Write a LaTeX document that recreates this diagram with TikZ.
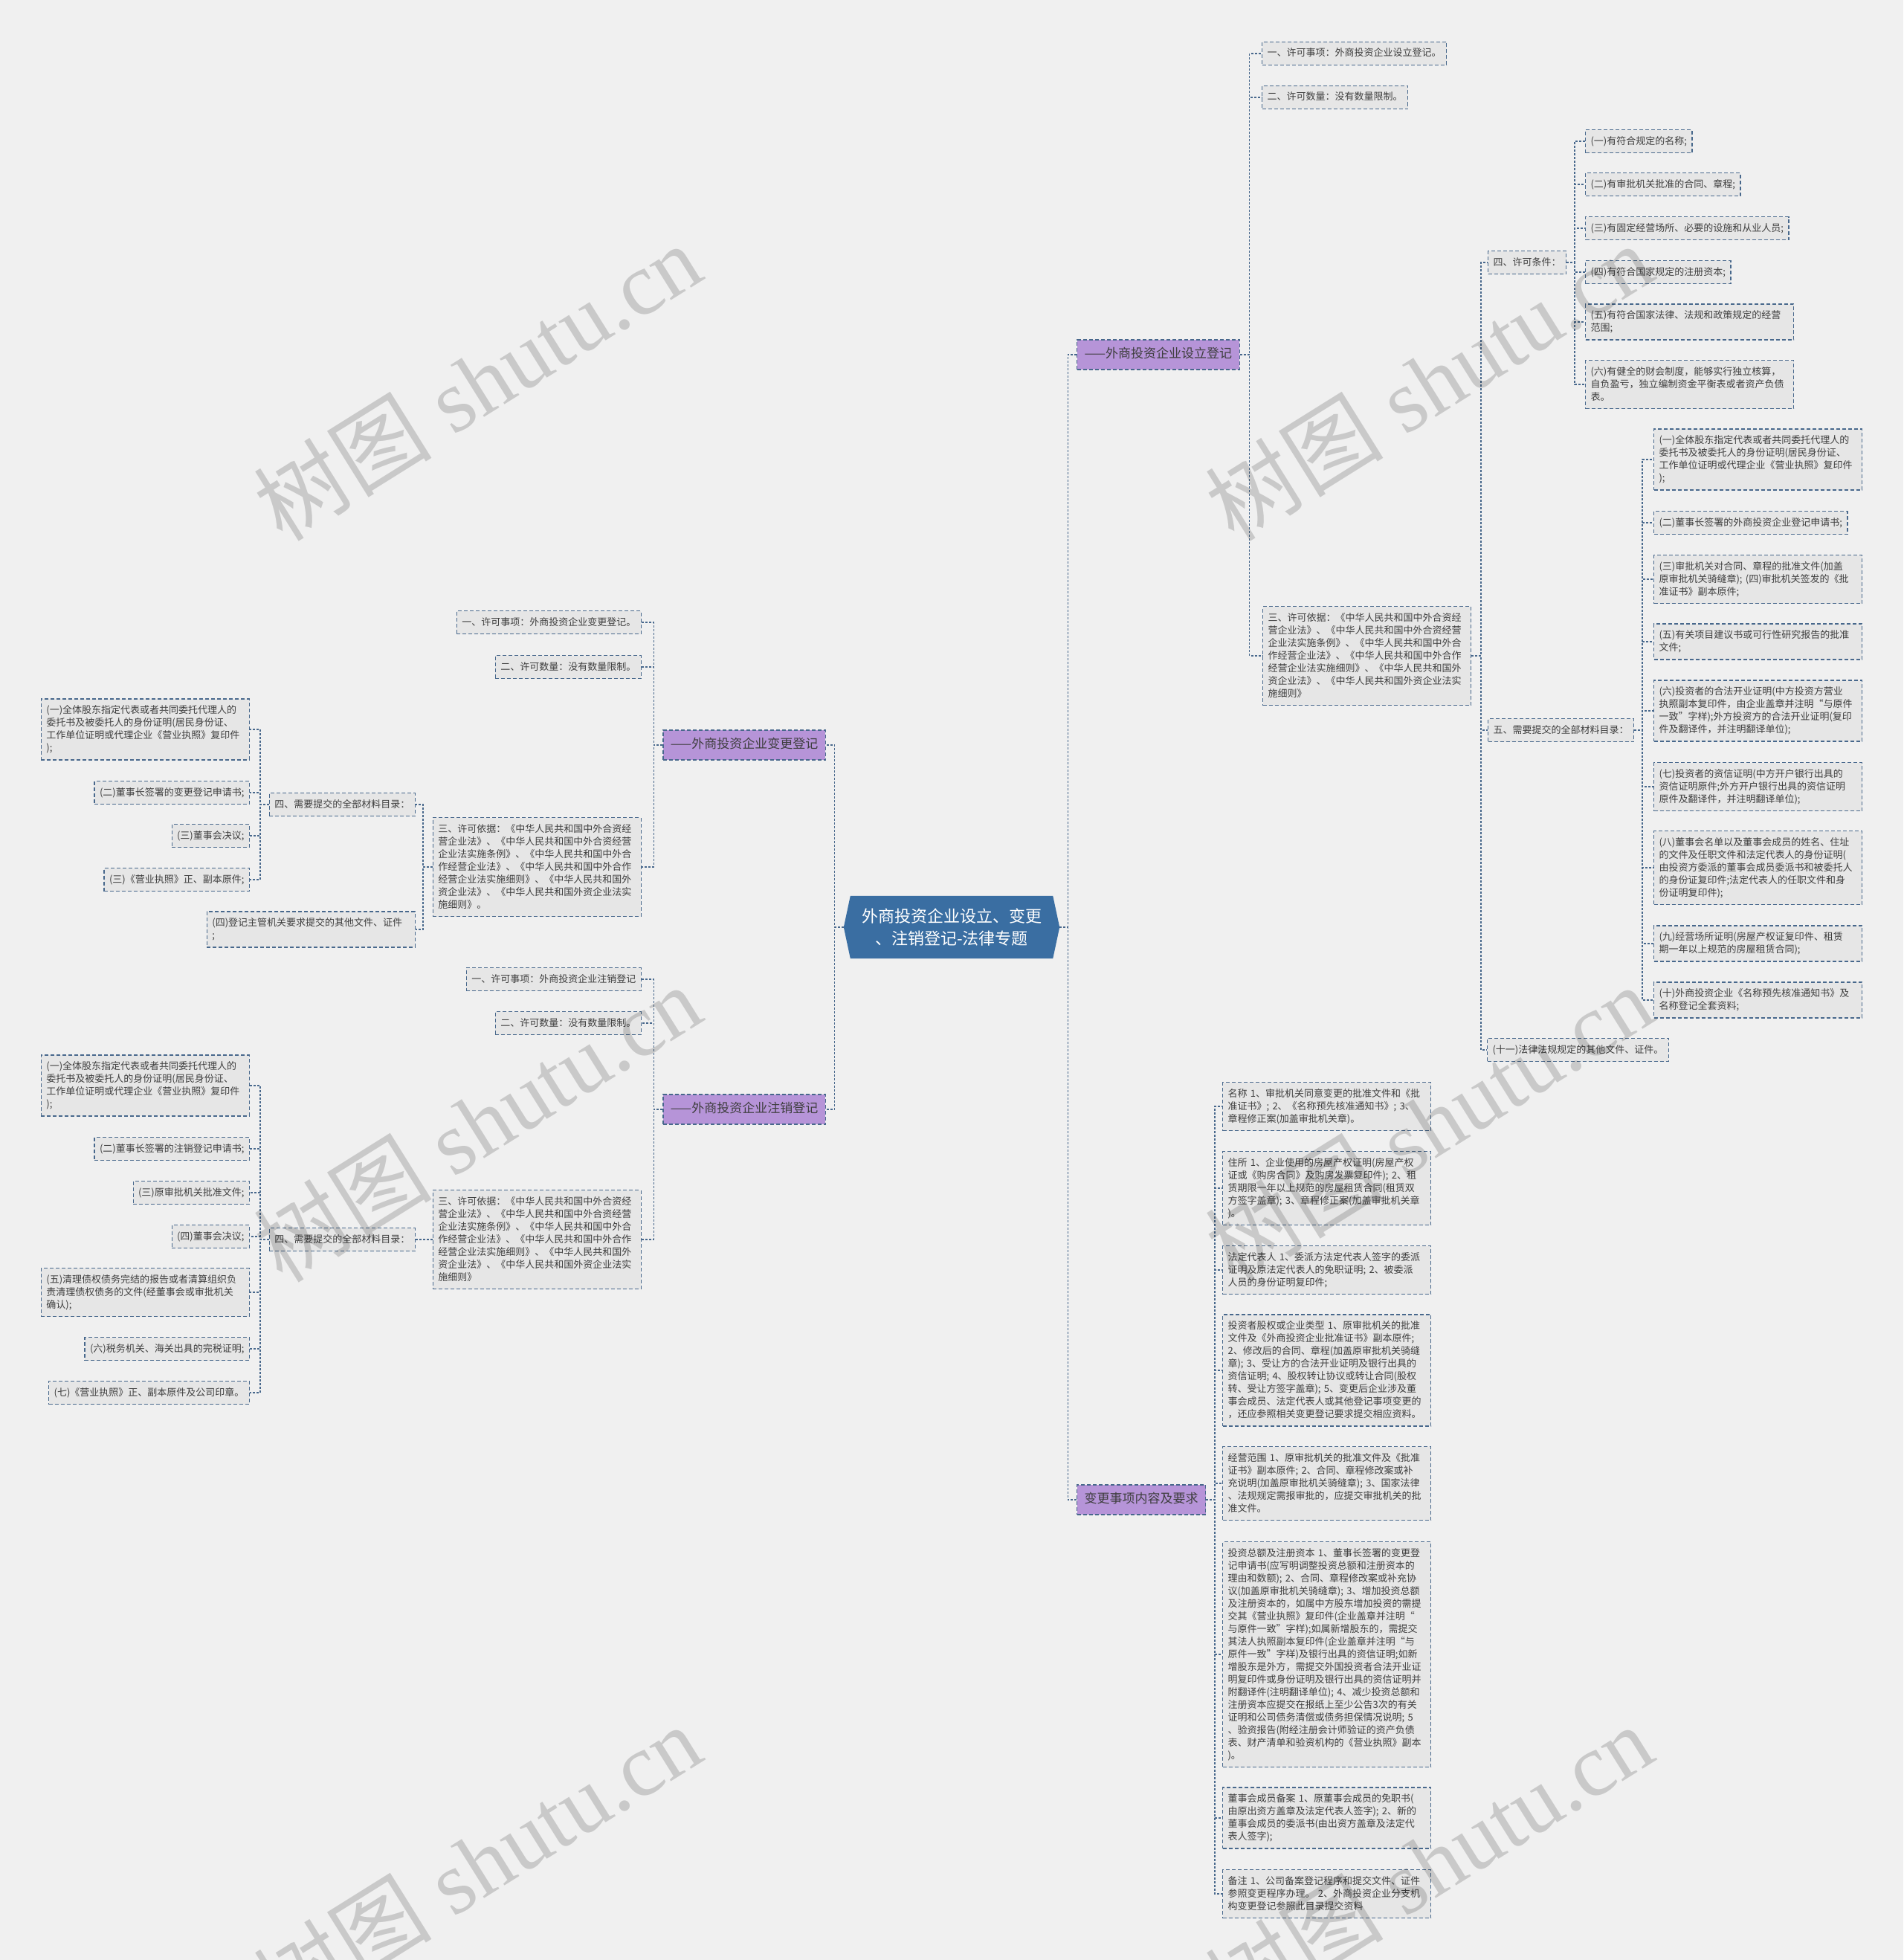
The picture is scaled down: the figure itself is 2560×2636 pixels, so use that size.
\documentclass[tikz,border=0pt]{standalone}
\usepackage{fontspec}
\usepackage{tikz}
\usetikzlibrary{backgrounds}
\newfontfamily\cjk{Noto Sans CJK SC}
\newfontfamily\wmfont{Liberation Serif}
\definecolor{pagebg}{RGB}{240,240,240}
\definecolor{boxfill}{RGB}{230,230,230}
\definecolor{boxline}{RGB}{72,104,140}
\definecolor{txtgray}{RGB}{62,62,62}
\definecolor{topicfill}{RGB}{182,148,216}
\definecolor{rootfill}{RGB}{58,110,162}
\newcommand{\bxstrut}{\vrule height 12.5pt depth 4.5pt width 0pt}
\newcommand{\tpstrut}{\vrule height 14.5pt depth 5.5pt width 0pt}

\begin{document}
\begin{tikzpicture}[x=1pt,y=-1pt,
  leaf/.style={draw=boxline,line width=1.1pt,dash pattern=on 5pt off 3pt,fill=boxfill,text=txtgray,
    font=\cjk\fontsize{13pt}{17pt}\selectfont,inner xsep=7pt,inner ysep=7pt,
    execute at begin node=\bxstrut,execute at end node=\bxstrut},
  para/.style={leaf,text width=266pt,align=left},
  topic/.style={draw=boxline,line width=1.1pt,dash pattern=on 5pt off 3pt,fill=topicfill,text=txtgray,
    font=\cjk\fontsize{17pt}{21pt}\selectfont,inner xsep=10pt,inner ysep=10pt,
    execute at begin node=\tpstrut,execute at end node=\tpstrut},
  link/.style={draw=boxline,line width=1.3pt,dash pattern=on 3pt off 2pt},
  wmark/.style={rotate=32,text=black,text opacity=0.16,font=\wmfont\fontsize{120pt}{120pt}\selectfont}]
  \useasboundingbox (0,0) rectangle (2560,2636);

  \node (root) [minimum width=272pt,minimum height=84pt,inner sep=0pt,align=center,text=white,
    font=\cjk\fontsize{22pt}{30pt}\selectfont] at (1280,1247) {外商投资企业设立、变更\\、注销登记-法律专题};
  \coordinate (rootL) at ([xshift=-9pt]root.west);
  \coordinate (rootR) at ([xshift=9pt]root.east);
  \begin{scope}[on background layer]
    \fill[pagebg] (0,0) rectangle (2560,2636);
    \fill[rootfill] (root.north west) -- (root.north east) -- (rootR) -- (root.south east)
      -- (root.south west) -- (rootL) -- cycle;
  \end{scope}

  \node (setup) [topic,anchor=west] at (1448,477) {——外商投资企业设立登记};
  \node (change) [topic,anchor=east] at (1111,1002) {——外商投资企业变更登记};
  \node (cancel) [topic,anchor=east] at (1111,1492) {——外商投资企业注销登记};
  \node (items) [topic,anchor=west] at (1448,2017) {变更事项内容及要求};

  % 设立登记
  \node (r1) [leaf,anchor=west] at (1697,72) {一、许可事项：外商投资企业设立登记。};
  \node (r2) [leaf,anchor=west] at (1697,131) {二、许可数量：没有数量限制。};
  \node (r3) [para,anchor=west] at (1698,882) {三、许可依据：《中华人民共和国中外合资经\\营企业法》、《中华人民共和国中外合资经营\\企业法实施条例》、《中华人民共和国中外合\\作经营企业法》、《中华人民共和国中外合作\\经营企业法实施细则》、《中华人民共和国外\\资企业法》、《中华人民共和国外资企业法实\\施细则》};
  \node (cond) [leaf,anchor=west] at (2001,353) {四、许可条件：};
  \node (mat) [leaf,anchor=west] at (2001,982) {五、需要提交的全部材料目录：};
  \node (m10) [leaf,anchor=west] at (2000,1412) {(十一)法律法规规定的其他文件、证件。};
  \node (c1) [leaf,anchor=west] at (2132,190) {(一)有符合规定的名称;};
  \node (c2) [leaf,anchor=west] at (2132,248) {(二)有审批机关批准的合同、章程;};
  \node (c3) [leaf,anchor=west] at (2132,307) {(三)有固定经营场所、必要的设施和从业人员;};
  \node (c4) [leaf,anchor=west] at (2132,366) {(四)有符合国家规定的注册资本;};
  \node (c5) [para,anchor=west] at (2132,433) {(五)有符合国家法律、法规和政策规定的经营\\范围;};
  \node (c6) [para,anchor=west] at (2132,517) {(六)有健全的财会制度，能够实行独立核算，\\自负盈亏，独立编制资金平衡表或者资产负债\\表。};
  \node (m1) [para,anchor=west] at (2224,618) {(一)全体股东指定代表或者共同委托代理人的\\委托书及被委托人的身份证明(居民身份证、\\工作单位证明或代理企业《营业执照》复印件\\);};
  \node (m2) [leaf,anchor=west] at (2224,703) {(二)董事长签署的外商投资企业登记申请书;};
  \node (m3) [para,anchor=west] at (2224,779) {(三)审批机关对合同、章程的批准文件(加盖\\原审批机关骑缝章); (四)审批机关签发的《批\\准证书》副本原件;};
  \node (m4) [para,anchor=west] at (2224,863) {(五)有关项目建议书或可行性研究报告的批准\\文件;};
  \node (m5) [para,anchor=west] at (2224,956) {(六)投资者的合法开业证明(中方投资方营业\\执照副本复印件，由企业盖章并注明“与原件\\一致”字样);外方投资方的合法开业证明(复印\\件及翻译件，并注明翻译单位);};
  \node (m6) [para,anchor=west] at (2224,1058) {(七)投资者的资信证明(中方开户银行出具的\\资信证明原件;外方开户银行出具的资信证明\\原件及翻译件，并注明翻译单位);};
  \node (m7) [para,anchor=west] at (2224,1167) {(八)董事会名单以及董事会成员的姓名、住址\\的文件及任职文件和法定代表人的身份证明(\\由投资方委派的董事会成员委派书和被委托人\\的身份证复印件;法定代表人的任职文件和身\\份证明复印件);};
  \node (m8) [para,anchor=west] at (2224,1269) {(九)经营场所证明(房屋产权证复印件、租赁\\期一年以上规范的房屋租赁合同);};
  \node (m9) [para,anchor=west] at (2224,1345) {(十)外商投资企业《名称预先核准通知书》及\\名称登记全套资料;};

  % 变更事项内容及要求
  \node (b1) [para,anchor=west] at (1644,1488) {名称 1、审批机关同意变更的批准文件和《批\\准证书》; 2、《名称预先核准通知书》; 3、\\章程修正案(加盖审批机关章)。};
  \node (b2) [para,anchor=west] at (1644,1598) {住所 1、企业使用的房屋产权证明(房屋产权\\证或《购房合同》及购房发票复印件); 2、租\\赁期限一年以上规范的房屋租赁合同(租赁双\\方签字盖章); 3、章程修正案(加盖审批机关章\\)。};
  \node (b3) [para,anchor=west] at (1644,1708) {法定代表人 1、委派方法定代表人签字的委派\\证明及原法定代表人的免职证明; 2、被委派\\人员的身份证明复印件;};
  \node (b4) [para,anchor=west] at (1644,1843) {投资者股权或企业类型 1、原审批机关的批准\\文件及《外商投资企业批准证书》副本原件;\\2、修改后的合同、章程(加盖原审批机关骑缝\\章); 3、受让方的合法开业证明及银行出具的\\资信证明; 4、股权转让协议或转让合同(股权\\转、受让方签字盖章); 5、变更后企业涉及董\\事会成员、法定代表人或其他登记事项变更的\\，还应参照相关变更登记要求提交相应资料。};
  \node (b5) [para,anchor=west] at (1644,1995) {经营范围 1、原审批机关的批准文件及《批准\\证书》副本原件; 2、合同、章程修改案或补\\充说明(加盖原审批机关骑缝章); 3、国家法律\\、法规规定需报审批的，应提交审批机关的批\\准文件。};
  \node (b6) [para,anchor=west] at (1644,2225) {投资总额及注册资本 1、董事长签署的变更登\\记申请书(应写明调整投资总额和注册资本的\\理由和数额); 2、合同、章程修改案或补充协\\议(加盖原审批机关骑缝章); 3、增加投资总额\\及注册资本的，如属中方股东增加投资的需提\\交其《营业执照》复印件(企业盖章并注明“\\与原件一致”字样);如属新增股东的，需提交\\其法人执照副本复印件(企业盖章并注明“与\\原件一致”字样)及银行出具的资信证明;如新\\增股东是外方，需提交外国投资者合法开业证\\明复印件或身份证明及银行出具的资信证明并\\附翻译件(注明翻译单位); 4、减少投资总额和\\注册资本应提交在报纸上至少公告3次的有关\\证明和公司债务清偿或债务担保情况说明; 5\\、验资报告(附经注册会计师验证的资产负债\\表、财产清单和验资机构的《营业执照》副本\\)。};
  \node (b7) [para,anchor=west] at (1644,2445) {董事会成员备案 1、原董事会成员的免职书(\\由原出资方盖章及法定代表人签字); 2、新的\\董事会成员的委派书(由出资方盖章及法定代\\表人签字);};
  \node (b8) [para,anchor=west] at (1644,2547) {备注 1、公司备案登记程序和提交文件、证件\\参照变更程序办理。 2、外商投资企业分支机\\构变更登记参照此目录提交资料};

  % 变更登记
  \node (l1) [leaf,anchor=east] at (863,837) {一、许可事项：外商投资企业变更登记。};
  \node (l2) [leaf,anchor=east] at (863,897) {二、许可数量：没有数量限制。};
  \node (l3) [para,anchor=east] at (863,1166) {三、许可依据：《中华人民共和国中外合资经\\营企业法》、《中华人民共和国中外合资经营\\企业法实施条例》、《中华人民共和国中外合\\作经营企业法》、《中华人民共和国中外合作\\经营企业法实施细则》、《中华人民共和国外\\资企业法》、《中华人民共和国外资企业法实\\施细则》。};
  \node (l4) [leaf,anchor=east] at (559,1082) {四、需要提交的全部材料目录：};
  \node (l5) [para,anchor=east] at (559,1250) {(四)登记主管机关要求提交的其他文件、证件\\;};
  \node (l4a) [para,anchor=east] at (336,981) {(一)全体股东指定代表或者共同委托代理人的\\委托书及被委托人的身份证明(居民身份证、\\工作单位证明或代理企业《营业执照》复印件\\);};
  \node (l4b) [leaf,anchor=east] at (336,1066) {(二)董事长签署的变更登记申请书;};
  \node (l4c) [leaf,anchor=east] at (336,1124) {(三)董事会决议;};
  \node (l4d) [leaf,anchor=east] at (336,1183) {(三)《营业执照》正、副本原件;};

  % 注销登记
  \node (d1) [leaf,anchor=east] at (863,1317) {一、许可事项：外商投资企业注销登记};
  \node (d2) [leaf,anchor=east] at (863,1376) {二、许可数量：没有数量限制。};
  \node (d3) [para,anchor=east] at (863,1667) {三、许可依据：《中华人民共和国中外合资经\\营企业法》、《中华人民共和国中外合资经营\\企业法实施条例》、《中华人民共和国中外合\\作经营企业法》、《中华人民共和国中外合作\\经营企业法实施细则》、《中华人民共和国外\\资企业法》、《中华人民共和国外资企业法实\\施细则》};
  \node (d4) [leaf,anchor=east] at (559,1667) {四、需要提交的全部材料目录：};
  \node (d4a) [para,anchor=east] at (336,1460) {(一)全体股东指定代表或者共同委托代理人的\\委托书及被委托人的身份证明(居民身份证、\\工作单位证明或代理企业《营业执照》复印件\\);};
  \node (d4b) [leaf,anchor=east] at (336,1545) {(二)董事长签署的注销登记申请书;};
  \node (d4c) [leaf,anchor=east] at (336,1604) {(三)原审批机关批准文件;};
  \node (d4d) [leaf,anchor=east] at (336,1663) {(四)董事会决议;};
  \node (d4e) [para,anchor=east] at (336,1738) {(五)清理债权债务完结的报告或者清算组织负\\责清理债权债务的文件(经董事会或审批机关\\确认);};
  \node (d4f) [leaf,anchor=east] at (336,1814) {(六)税务机关、海关出具的完税证明;};
  \node (d4g) [leaf,anchor=east] at (336,1873) {(七)《营业执照》正、副本原件及公司印章。};

  % connectors
  \draw[link] (rootR) -- ++(11,0) |- (setup.west) (rootR) -- ++(11,0) |- (items.west);
  \draw[link] (rootL) -- ++(-12,0) |- (change.east) (rootL) -- ++(-12,0) |- (cancel.east);
  \draw[link] (setup.east) -- ++(13,0) |- (r1.west) (setup.east) -- ++(13,0) |- (r2.west)
    (setup.east) -- ++(13,0) |- (r3.west);
  \draw[link] (r3.east) -- ++(13,0) |- (cond.west) (r3.east) -- ++(13,0) |- (mat.west)
    (r3.east) -- ++(13,0) |- (m10.west);
  \draw[link] (cond.east) -- ++(11,0) |- (c1.west) (cond.east) -- ++(11,0) |- (c2.west)
    (cond.east) -- ++(11,0) |- (c3.west) (cond.east) -- ++(11,0) |- (c4.west)
    (cond.east) -- ++(11,0) |- (c5.west) (cond.east) -- ++(11,0) |- (c6.west);
  \draw[link] (mat.east) -- ++(11,0) |- (m1.west) (mat.east) -- ++(11,0) |- (m2.west)
    (mat.east) -- ++(11,0) |- (m3.west) (mat.east) -- ++(11,0) |- (m4.west)
    (mat.east) -- ++(11,0) |- (m5.west) (mat.east) -- ++(11,0) |- (m6.west)
    (mat.east) -- ++(11,0) |- (m7.west) (mat.east) -- ++(11,0) |- (m8.west)
    (mat.east) -- ++(11,0) |- (m9.west);
  \draw[link] (items.east) -- ++(12,0) |- (b1.west) (items.east) -- ++(12,0) |- (b2.west)
    (items.east) -- ++(12,0) |- (b3.west) (items.east) -- ++(12,0) |- (b4.west)
    (items.east) -- ++(12,0) |- (b5.west) (items.east) -- ++(12,0) |- (b6.west)
    (items.east) -- ++(12,0) |- (b7.west) (items.east) -- ++(12,0) |- (b8.west);
  \draw[link] (change.west) -- ++(-12,0) |- (l1.east) (change.west) -- ++(-12,0) |- (l2.east)
    (change.west) -- ++(-12,0) |- (l3.east);
  \draw[link] (l3.west) -- ++(-13,0) |- (l4.east) (l3.west) -- ++(-13,0) |- (l5.east);
  \draw[link] (l4.west) -- ++(-12,0) |- (l4a.east) (l4.west) -- ++(-12,0) |- (l4b.east)
    (l4.west) -- ++(-12,0) |- (l4c.east) (l4.west) -- ++(-12,0) |- (l4d.east);
  \draw[link] (cancel.west) -- ++(-12,0) |- (d1.east) (cancel.west) -- ++(-12,0) |- (d2.east)
    (cancel.west) -- ++(-12,0) |- (d3.east);
  \draw[link] (d3.west) -- (d4.east);
  \draw[link] (d4.west) -- ++(-12,0) |- (d4a.east) (d4.west) -- ++(-12,0) |- (d4b.east)
    (d4.west) -- ++(-12,0) |- (d4c.east) (d4.west) -- ++(-12,0) |- (d4d.east)
    (d4.west) -- ++(-12,0) |- (d4e.east) (d4.west) -- ++(-12,0) |- (d4f.east)
    (d4.west) -- ++(-12,0) |- (d4g.east);

  % watermark
  \node[wmark] (wm1) at (642,513) {{\cjk 树图} shutu.cn};
  \node[wmark] (wm2) at (1922,513) {{\cjk 树图} shutu.cn};
  \node[wmark] (wm3) at (642,1510) {{\cjk 树图} shutu.cn};
  \node[wmark] (wm4) at (1922,1510) {{\cjk 树图} shutu.cn};
  \node[wmark] (wm5) at (642,2505) {{\cjk 树图} shutu.cn};
  \node[wmark] (wm6) at (1922,2505) {{\cjk 树图} shutu.cn};
\end{tikzpicture}
\end{document}
